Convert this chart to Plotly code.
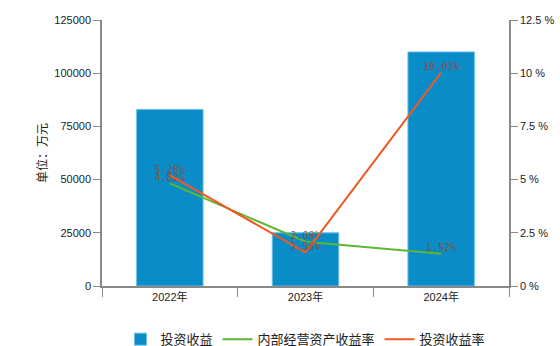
import plotly.graph_objects as go

categories = ["2022年", "2023年", "2024年"]
invest_income = [83000, 25000, 110000]
internal_rate = [4.82, 2.08, 1.52]
invest_rate = [5.20, 1.58, 10.03]

FONT = "Liberation Sans, Noto Sans CJK SC, sans-serif"
LABEL_FONT = dict(family="DejaVu Sans Mono, monospace", size=10, color="rgba(150,75,45,0.9)")

fig = go.Figure()
fig.add_trace(go.Bar(
    x=categories, y=invest_income, name="投资收益",
    marker=dict(color="#0a8cc8", line=dict(color="#6cc0e6", width=1)),
    width=0.49, yaxis="y",
))
fig.add_trace(go.Scatter(
    x=categories, y=internal_rate, name="内部经营资产收益率",
    mode="lines+text", line=dict(color="#5cb832", width=2),
    text=[f"{v:.2f}%" for v in internal_rate], textposition="top center",
    textfont=LABEL_FONT, yaxis="y2",
))
fig.add_trace(go.Scatter(
    x=categories, y=invest_rate, name="投资收益率",
    mode="lines+text", line=dict(color="#f05a22", width=2),
    text=[f"{v:.2f}%" for v in invest_rate], textposition="top center",
    textfont=LABEL_FONT, yaxis="y2",
))

def axis_common(ticklen=7):
    return dict(showgrid=False, zeroline=False, showline=True, linecolor="#888",
                linewidth=1.5, ticks="outside", tickcolor="#888", ticklen=ticklen,
                tickfont=dict(family=FONT, size=11, color="#222"))

fig.update_layout(
    width=560, height=346,
    margin=dict(l=102, r=51, t=20, b=60, autoexpand=False),
    paper_bgcolor="white", plot_bgcolor="white",
    font=dict(family=FONT, size=11, color="#222"),
    bargap=0.5,
    xaxis=dict(**axis_common(9), tickson="boundaries"),
    yaxis=dict(**axis_common(), range=[0, 125000], dtick=25000, tickformat="d",
               title=dict(text="单位：万元", font=dict(family=FONT, size=12, color="#222"), standoff=4)),
    yaxis2=dict(**axis_common(), overlaying="y", side="right", range=[0, 12.5], dtick=2.5,
                ticksuffix=" %"),
    legend=dict(orientation="h", x=0.5, xanchor="center", y=-0.2, yanchor="middle",
                font=dict(family=FONT, size=13, color="#222"), itemwidth=30),
    showlegend=True,
)

fig.write_html("out.html")
